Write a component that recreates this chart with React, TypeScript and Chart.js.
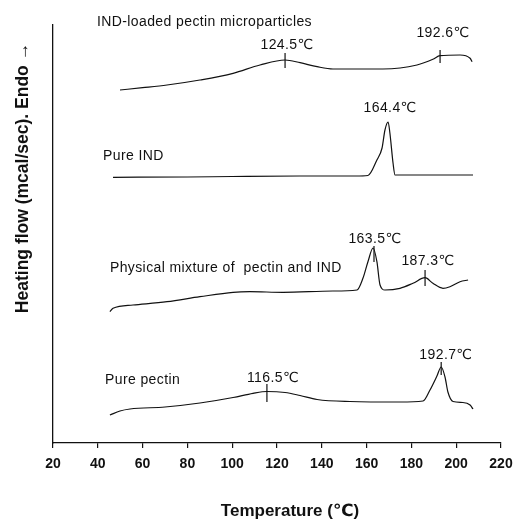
import { useEffect, useRef } from "react";
import { Chart, registerables } from "chart.js";

Chart.register(...registerables);

// Temperature axis (°C)
const tempMin = 20;
const tempMax = 220;
const tempStep = 20;

// Heat-flow values (arbitrary stacked units, higher = endo up)
const loadedT = [49.9, 60, 70.9, 85.6, 100.4, 112.4, 123.6, 130.3, 137.9, 145.0, 167.3, 182.5, 189.6, 192.8, 201.7, 206.2, 207.1];
const loadedV = [353, 355.3, 358, 363, 369.7, 378, 383, 380.3, 376.3, 374, 374, 378, 383.7, 387.3, 388, 384.7, 381.3];

const indT = [46.8, 80, 100, 130, 155, 160.6, 164.6, 166.9, 168.2, 169.6, 170.4, 171.8, 172.7, 185, 207.5];
const indV = [265.7, 266, 266.5, 267, 267, 267.5, 283, 295, 313, 321, 310, 280, 268, 268, 268];

const mixT = [45.4, 46.8, 55.7, 70.9, 85.6, 100.4, 107.9, 122.7, 145.0, 155.7, 158.4, 160.6, 162.9, 164.6, 166.0, 168.2, 174.9, 180.7, 186.1, 189.6, 194.1, 197.2, 201.7, 205.3];
const mixV = [131.3, 134.7, 138, 141.3, 146.3, 150.7, 151.3, 150.7, 152, 153, 165, 181.3, 195, 181.3, 158, 153, 154.7, 159.7, 165.3, 159.7, 154.7, 156.3, 161.3, 163];

const pectinT = [45.4, 49.9, 54.4, 70.0, 85.6, 100.4, 109.3, 115.5, 123.6, 130.3, 137.9, 152.6, 174.9, 185.2, 188.3, 191.4, 193.3, 195.0, 196.3, 198.6, 203.0, 206.2, 207.5];
const pectinV = [28, 32, 34, 36, 40, 45.5, 49.7, 51.5, 50.5, 47.5, 43.5, 41.5, 41, 42, 53, 67, 76, 66, 51, 41.5, 40.5, 38, 34];

// Peak markers (temperature, lower and upper heat-flow value)
const markerT = [123.6, 192.8, 163.3, 186.1, 115.5, 193.3];
const markerLo = [375, 380, 181, 157, 41, 68];
const markerHi = [390, 393, 197, 173, 59, 81];

// Annotation texts anchored in data units
const noteText = [
  "IND-loaded pectin microparticles",
  "124.5℃",
  "192.6℃",
  "Pure IND",
  "164.4℃",
  "Physical mixture of  pectin and IND",
  "163.5℃",
  "187.3℃",
  "Pure pectin",
  "116.5℃",
  "192.7℃",
];
const noteT = [39.6, 124.5, 194.1, 42.3, 170.5, 45.4, 163.75, 187.4, 43.2, 118.2, 195.4];
const noteV = [421, 398, 410, 287, 335, 175, 204, 182, 63, 65, 88];
const noteAlign = ["left", "center", "center", "left", "center", "left", "center", "center", "left", "center", "center"];

const xTitle = "Temperature (℃)";
const yTitle = "Heating flow (mcal/sec). Endo →";

const FONT = "'Liberation Sans', Arial, 'DejaVu Sans', sans-serif";

function pts(t: number[], v: number[]) {
  return t.map((x, i) => ({ x, y: v[i] }));
}

export default function App() {
  const ref = useRef<HTMLCanvasElement | null>(null);

  useEffect(() => {
    if (!ref.current) return;
    const curveStyle = {
      borderColor: "#111",
      borderWidth: 1.2,
      pointRadius: 0,
      fill: false,
      cubicInterpolationMode: "monotone" as const,
    };
    const datasets: any[] = [
      { label: "IND-loaded pectin microparticles", data: pts(loadedT, loadedV), ...curveStyle },
      { label: "Pure IND", data: pts(indT, indV), ...curveStyle },
      { label: "Physical mixture", data: pts(mixT, mixV), ...curveStyle },
      { label: "Pure pectin", data: pts(pectinT, pectinV), ...curveStyle },
    ];
    markerT.forEach((t, i) => {
      datasets.push({
        label: "marker" + i,
        data: [
          { x: t, y: markerLo[i] },
          { x: t, y: markerHi[i] },
        ],
        borderColor: "#111",
        borderWidth: 1.2,
        pointRadius: 0,
        tension: 0,
      });
    });

    const textPlugin = {
      id: "texts",
      afterDraw(chart: any) {
        const { ctx, scales, chartArea } = chart;
        const xs = scales.x;
        const ys = scales.y;
        ctx.save();
        ctx.fillStyle = "#111";
        ctx.textBaseline = "middle";
        ctx.font = `14px ${FONT}`;
        try {
          (ctx as any).letterSpacing = "0.4px";
        } catch (e) {}
        noteText.forEach((txt, i) => {
          ctx.textAlign = noteAlign[i] as CanvasTextAlign;
          ctx.fillText(txt, xs.getPixelForValue(noteT[i]), ys.getPixelForValue(noteV[i]));
        });
        try {
          (ctx as any).letterSpacing = "0px";
        } catch (e) {}
        // axis titles
        ctx.font = `bold 17px ${FONT}`;
        ctx.textAlign = "center";
        ctx.fillText(xTitle, xs.getPixelForValue(125.8), chartArea.bottom + 68);
        ctx.save();
        ctx.translate(chartArea.left - 30, ys.getPixelForValue(265));
        ctx.rotate(-Math.PI / 2);
        ctx.font = `bold 17.5px ${FONT}`;
        ctx.fillText(yTitle, 0, 0);
        ctx.restore();
        ctx.restore();
      },
    };

    const chart = new Chart(ref.current, {
      type: "line",
      data: { datasets },
      options: {
        animation: false,
        responsive: false,
        maintainAspectRatio: false,
        parsing: true,
        layout: { padding: { top: 25, right: 12, left: 0, bottom: 0 } },
        plugins: {
          legend: { display: false },
          tooltip: { enabled: false },
          title: { display: false },
        },
        scales: {
          x: {
            type: "linear",
            min: tempMin,
            max: tempMax,
            afterFit: (s: any) => {
              s.height = 77;
              s.paddingLeft = 0;
              s.paddingRight = 0;
            },
            ticks: {
              stepSize: tempStep,
              color: "#111",
              font: { family: FONT, size: 14, weight: "bold" },
              padding: 8,
              maxRotation: 0,
            },
            grid: {
              drawOnChartArea: false,
              drawTicks: true,
              tickLength: 5,
              color: "#111",
              lineWidth: 1.2,
            },
            border: { display: true, color: "#111", width: 1.3 },
          },
          y: {
            type: "linear",
            min: 0,
            max: 418,
            afterFit: (s: any) => {
              s.width = 53;
              s.paddingTop = 0;
              s.paddingBottom = 0;
            },
            ticks: { display: false },
            grid: { display: false, drawTicks: false },
            border: { display: true, color: "#111", width: 1.3 },
          },
        },
      },
      plugins: [textPlugin],
    } as any);

    return () => chart.destroy();
  }, []);

  return (
    <div style={{ position: "absolute", left: 0, top: 0, width: 513, height: 520, background: "#fff" }}>
      <canvas ref={ref} width={513} height={520} style={{ display: "block" }} />
    </div>
  );
}
